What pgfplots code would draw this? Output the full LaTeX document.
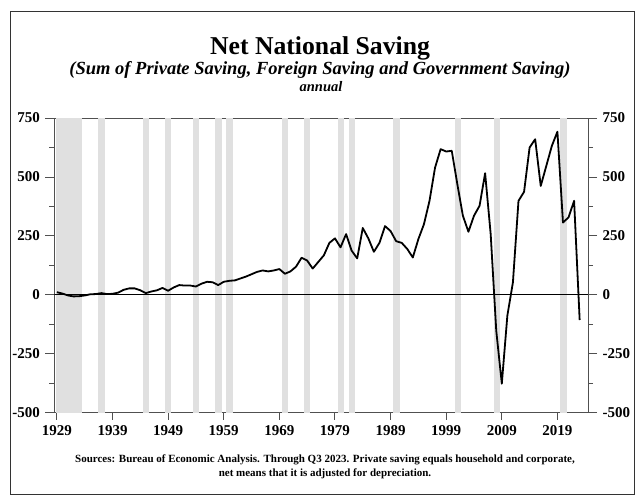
\documentclass[border=0pt]{standalone}
\usepackage{pgfplots}
\pgfplotsset{compat=1.18}
\usepackage{pgfplotstable}
\usepackage{fontspec}
\setmainfont{Liberation Serif}
\definecolor{bandgray}{HTML}{E0E0E0}
\definecolor{axgray}{HTML}{505050}
\pgfplotstableread{
year val
1929 12
1930 6
1931 -2
1932 -6
1933 -5
1934 -2
1935 3
1936 4
1937 8
1938 4
1939 5
1940 10
1941 22
1942 28
1943 28
1944 20
1945 8
1946 15
1947 20
1948 30
1949 18
1950 32
1951 42
1952 40
1953 40
1954 36
1955 48
1956 56
1957 54
1958 42
1959 56
1960 60
1961 62
1962 70
1963 78
1964 88
1965 98
1966 104
1967 100
1968 104
1969 110
1970 90
1971 100
1972 120
1973 158
1974 146
1975 112
1976 140
1977 168
1978 221
1979 240
1980 202
1981 258
1982 188
1983 155
1984 284
1985 240
1986 183
1987 221
1988 292
1989 271
1990 228
1991 221
1992 195
1993 159
1994 237
1995 300
1996 399
1997 540
1998 618
1999 608
2000 611
2001 470
2002 336
2003 268
2004 336
2005 378
2006 516
2007 258
2008 -151
2009 -376
2010 -87
2011 54
2012 399
2013 437
2014 625
2015 660
2016 462
2017 547
2018 632
2019 692
2020 307
2021 329
2022 399
2023 -106
}\saving
\newcommand{\band}[2]{\addplot[draw=none,fill=bandgray,forget plot] coordinates {(#1,-500) (#1,750) (#2,750) (#2,-500)} -- cycle;}
\begin{document}
\begin{tikzpicture}[x=1pt,y=1pt]
\path[use as bounding box] (0,0) rectangle (640,497);
\draw[line width=1pt,black!80] (10,2) rectangle (634,485);
\node[font=\fontsize{25.7}{30}\selectfont\bfseries,anchor=base] at (320,442) {Net National Saving};
\node[font=\fontsize{18.5}{20}\selectfont\bfseries\itshape] at (320,427) {(Sum of Private Saving, Foreign Saving and Government Saving)};
\node[font=\fontsize{14.5}{16}\selectfont\bfseries\itshape] at (321,410) {annual};
\node[font=\fontsize{11}{14}\selectfont\bfseries,align=center] at (325,30) {Sources: Bureau of Economic Analysis. Through Q3 2023. Private saving equals household and corporate,\\net means that it is adjusted for depreciation.};
\begin{axis}[
  at={(54.5pt,84pt)}, anchor=south west,
  width=533.5pt, height=295pt, scale only axis,
  xmin=1928.57, xmax=2024.5, ymin=-500, ymax=750,
  axis line style={axgray, line width=1pt},
  xtick={1929,1939,1949,1959,1969,1979,1989,1999,2009,2019},
  xticklabels={1929,1939,1949,1959,1969,1979,1989,1999,2009,2019},
  ytick={-500,-250,0,250,500,750},
  yticklabels={-500,-250,0,250,500,750},
  minor ytick={-375,-125,125,375,625},
  xtick pos=bottom, ytick pos=left,
  tick align=outside,
  major tick length=9pt, minor tick length=5pt,
  xtick style={/pgfplots/major tick length=7pt},
  tick style={axgray, line width=1pt},
  ticklabel style={font=\fontsize{15}{15}\selectfont\bfseries},
  yticklabel style={xshift=-2pt},
  clip=true,
]
\band{1928.85}{1933.5}
\band{1936.4}{1937.6}
\band{1944.5}{1945.5}
\band{1948.5}{1949.6}
\band{1953.5}{1954.6}
\band{1957.5}{1958.6}
\band{1959.4}{1960.6}
\band{1969.5}{1970.5}
\band{1973.5}{1974.6}
\band{1979.5}{1980.7}
\band{1981.5}{1982.6}
\band{1989.5}{1990.7}
\band{2000.6}{2001.7}
\band{2007.6}{2008.7}
\band{2019.5}{2020.7}
\addplot[black, line width=1pt, forget plot] coordinates {(1928.57,0) (2024.5,0)};
\addplot[black, line width=1.8pt, line join=round] table[x=year,y=val] {\saving};
\end{axis}
\begin{axis}[
  at={(54.5pt,84pt)}, anchor=south west,
  width=533.5pt, height=295pt, scale only axis,
  xmin=1928.57, xmax=2024.5, ymin=-500, ymax=750,
  axis x line=none, axis y line*=right,
  axis line style={axgray, line width=1pt},
  ytick={-500,-250,0,250,500,750},
  yticklabels={-500,-250,0,250,500,750},
  minor ytick={-375,-125,125,375,625},
  tick align=outside,
  major tick length=9pt, minor tick length=5pt,
  tick style={axgray, line width=1pt},
  ticklabel style={font=\fontsize{15}{15}\selectfont\bfseries},
  yticklabel style={xshift=2pt},
]
\addplot[draw=none] coordinates {(2000,0)};
\end{axis}
\end{tikzpicture}
\end{document}
